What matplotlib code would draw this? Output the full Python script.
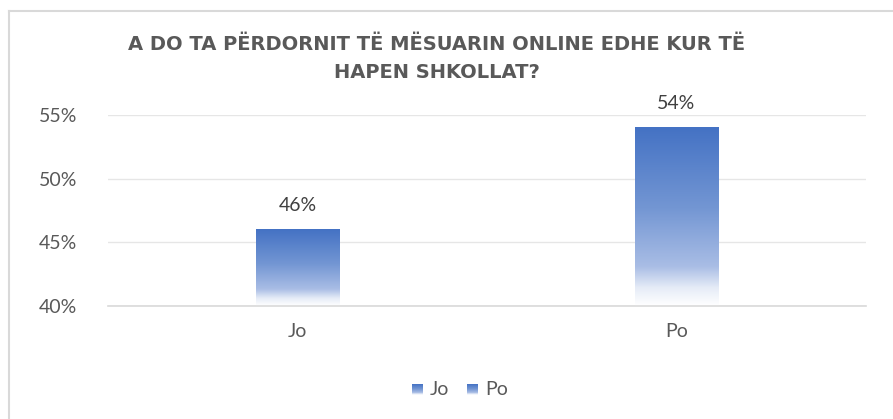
import numpy as np
import matplotlib.pyplot as plt
from matplotlib.colors import LinearSegmentedColormap
from matplotlib.lines import Line2D

categories = ['Jo', 'Po']
values = [0.46, 0.54]
title = 'A DO TA PËRDORNIT TË MËSUARIN ONLINE EDHE KUR TË\nHAPEN SHKOLLAT?'
yticks = [0.40, 0.45, 0.50, 0.55]

plt.rcParams['font.family'] = ['Lato', 'DejaVu Sans']
gray = '#595959'

# gradient: dark blue at top, fading to white at the bottom
grad = LinearSegmentedColormap.from_list('bar', [
    (0.0, '#ffffff'),
    (0.10, '#e6ecf7'),
    (0.22, '#a9bde5'),
    (0.55, '#7396d3'),
    (1.0, '#4472c4'),
])

fig = plt.figure(figsize=(8.93, 4.19), dpi=100)
ax = fig.add_axes([108/893, 1 - 306/419, 758/893, 191/419])

ymin, ymax = 0.40, 0.55
width = 0.22
x = np.arange(len(categories))
g = np.linspace(0, 1, 256).reshape(-1, 1)
for xi, v in zip(x, values):
    ax.imshow(g, cmap=grad, origin='lower', aspect='auto',
              extent=[xi - width/2, xi + width/2, ymin, v], zorder=2)
    ax.annotate(f'{v:.0%}', (xi, v), xytext=(0, 11), textcoords='offset points',
                ha='center', va='bottom', fontsize=14, color='#404040',
                annotation_clip=False)

ax.set_xlim(-0.5, len(categories) - 0.5)
ax.set_ylim(ymin, ymax)
ax.set_yticks(yticks)
ax.set_yticklabels([f'{t:.0%}' for t in yticks])
ax.set_xticks(x)
ax.set_xticklabels(categories)
ax.tick_params(axis='both', length=0, labelsize=14, labelcolor=gray)
ax.tick_params(axis='y', pad=22)
ax.tick_params(axis='x', pad=12)
ax.grid(axis='y', color='#e6e6e6', lw=1, zorder=0)
for s in ['top', 'right', 'left']:
    ax.spines[s].set_visible(False)
ax.spines['bottom'].set_color('#d9d9d9')
ax.spines['bottom'].set_linewidth(1.2)

fig.text(437/893, 1 - 59/419, title, ha='center', va='center',
         fontsize=14, fontweight='bold', color=gray, linespacing=1.6,
         family=['DejaVu Sans'])

# legend with gradient squares
lax = fig.add_axes([0, 0, 1, 1], facecolor='none')
lax.axis('off')
for name, lx in zip(categories, [412, 467]):
    lax.imshow(g, cmap=grad, origin='lower', aspect='auto',
               extent=[lx, lx + 11, 395, 384])
    lax.text(lx + 18, 389, name, ha='left', va='center', fontsize=14, color=gray)
lax.set_xlim(0, 893)
lax.set_ylim(419, 0)

# chart border
fig.add_artist(Line2D([9/893, 9/893], [0, 1 - 11/419], color='#d9d9d9', lw=1.5))
fig.add_artist(Line2D([9/893, 1], [1 - 11/419, 1 - 11/419], color='#d9d9d9', lw=1.5))

fig.savefig('out.png', dpi=100)
